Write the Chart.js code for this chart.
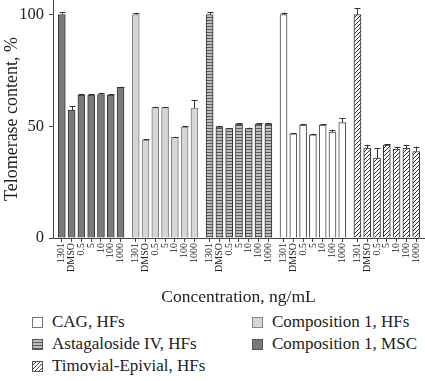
<!DOCTYPE html>
<html>
<head>
<meta charset="utf-8">
<script src="https://cdn.jsdelivr.net/npm/chart.js@4/dist/chart.umd.min.js"></script>
<style>
  body { margin: 0; background: #fff; }
  #wrap { position: relative; width: 425px; height: 381px; font-family: "Liberation Serif", "DejaVu Serif", serif; color: #222; }
  canvas { position: absolute; left: 0; top: 0; }
  .item { position: absolute; font-size: 17px; line-height: 18px; white-space: nowrap; }
  .box { position: absolute; width: 9px; height: 9px; border: 1px solid #666; }
</style>
</head>
<body>
<div id="wrap">
  <canvas id="chart" width="425" height="310"></canvas>
  <div id="legend"></div>
</div>
<script>
// concentration labels, same for every group
const concentrations = ['1301', 'DMSO', '0.5', '5', '10', '100', '1000'];

// groups in the order they appear on the x axis
const groupNames = ['Composition 1, MSC', 'Composition 1, HFs', 'Astagaloside IV, HFs', 'CAG, HFs', 'Timovial-Epivial, HFs'];

const msc       = [100, 57.2, 64.0, 64.0, 64.2, 64.0, 67.4];
const comp1Hfs  = [100, 43.8, 58.4, 58.4, 45.0, 49.6, 58.1];
const astag     = [100, 49.8, 49.0, 51.0, 49.0, 51.0, 51.0];
const cag       = [100, 46.6, 50.5, 46.2, 50.5, 47.4, 51.7];
const timovial  = [100, 40.2, 35.8, 41.6, 39.8, 40.1, 38.7];

const mscErr      = [1.0, 1.8, 0.5, 0.4, 0.8, 0.5, 0.3];
const comp1HfsErr = [0.8, 0.3, 0.3, 0.3, 0.3, 0.6, 3.6];
const astagErr    = [1.2, 0.4, 0.3, 0.4, 0.4, 0.4, 0.3];
const cagErr      = [0.9, 0.4, 0.5, 0.5, 0.4, 1.0, 1.9];
const timovialErr = [2.8, 1.5, 4.5, 0.4, 1.0, 1.3, 2.2];

const yTicks = [0, 50, 100];

// layout: spacing between groups, in bar slots
const GROUP_STEP = concentrations.length + 0.55;

function stripes() {
  const c = document.createElement('canvas');
  c.width = 4; c.height = 3;
  const g = c.getContext('2d');
  g.fillStyle = '#bdbdbd'; g.fillRect(0, 0, 4, 3);
  g.fillStyle = '#5a5a5a'; g.fillRect(0, 2, 4, 1);
  return g.createPattern(c, 'repeat');
}
function hatch() {
  const c = document.createElement('canvas');
  c.width = 4; c.height = 4;
  const g = c.getContext('2d');
  g.fillStyle = '#fff'; g.fillRect(0, 0, 4, 4);
  g.strokeStyle = '#333'; g.lineWidth = 1;
  g.beginPath();
  g.moveTo(-1, 5); g.lineTo(5, -1);
  g.moveTo(-1, 1); g.lineTo(1, -1);
  g.moveTo(3, 5); g.lineTo(5, 3);
  g.stroke();
  return g.createPattern(c, 'repeat');
}

const ctx = document.getElementById('chart').getContext('2d');
const values = [msc, comp1Hfs, astag, cag, timovial];
const errors = [mscErr, comp1HfsErr, astagErr, cagErr, timovialErr];
const fills = ['#7a7a7a', '#d6d6d6', stripes(), '#ffffff', hatch()];
const borders = ['#3a3a3a', '#7a7a7a', '#333333', '#444444', '#333333'];

const positions = [];
const datasets = values.map((vals, g) => {
  const data = vals.map((v, i) => {
    const x = g * GROUP_STEP + i;
    positions.push(x);
    return { x: x, y: v };
  });
  return {
    label: groupNames[g],
    data: data,
    errors: errors[g],
    backgroundColor: fills[g],
    borderColor: borders[g],
    borderWidth: 1,
    borderSkipped: 'bottom',
    barThickness: 7,
    grouped: false
  };
});

const errorBars = {
  id: 'errorBars',
  afterDatasetsDraw(chart) {
    const c = chart.ctx;
    const y = chart.scales.y;
    c.save();
    c.strokeStyle = '#333';
    c.lineWidth = 1;
    chart.data.datasets.forEach((ds, di) => {
      chart.getDatasetMeta(di).data.forEach((bar, i) => {
        const v = ds.data[i].y;
        const top = y.getPixelForValue(v + ds.errors[i]);
        const base = y.getPixelForValue(v);
        const x = Math.round(bar.x) + 0.5;
        c.beginPath();
        c.moveTo(x, base);
        c.lineTo(x, top);
        c.moveTo(x - 3, Math.round(top) + 0.5);
        c.lineTo(x + 3, Math.round(top) + 0.5);
        c.stroke();
      });
    });
    c.restore();
  }
};

const font = 'Liberation Serif';

new Chart(ctx, {
  type: 'bar',
  data: { datasets: datasets },
  options: {
    responsive: false,
    animation: false,
    layout: { padding: { left: 0, right: 1, top: 0, bottom: 0 } },
    plugins: { legend: { display: false }, tooltip: { enabled: false } },
    scales: {
      x: {
        type: 'linear',
        min: -0.9,
        max: 4 * GROUP_STEP + 6.8,
        offset: false,
        grid: { display: true, drawOnChartArea: false, drawTicks: true, tickLength: 4, color: '#444', offset: false },
        border: { display: true, color: '#444', width: 1 },
        afterBuildTicks: (scale) => { scale.ticks = positions.map(v => ({ value: v })); },
        afterFit: (scale) => { scale.height = 72; scale.paddingLeft = 0; scale.paddingRight = 0; },
        ticks: {
          autoSkip: false,
          minRotation: 90,
          maxRotation: 90,
          padding: 1,
          color: '#222',
          font: { family: font, size: 10 },
          callback: (value, index) => concentrations[index % concentrations.length]
        },
        title: {
          display: true,
          text: 'Concentration, ng/mL',
          color: '#222',
          font: { family: font, size: 17.5 },
          padding: { top: 0, bottom: 2.5 }
        }
      },
      y: {
        min: 0,
        max: 106.5,
        grid: { display: true, drawOnChartArea: false, drawTicks: true, tickLength: 4, color: '#444' },
        border: { display: true, color: '#444', width: 1 },
        afterBuildTicks: (scale) => { scale.ticks = yTicks.map(v => ({ value: v })); },
        afterFit: (scale) => { scale.width = 53; scale.paddingTop = 0; scale.paddingBottom = 0; },
        ticks: {
          padding: 5,
          color: '#222',
          font: { family: font, size: 16.5 }
        },
        title: {
          display: true,
          text: 'Telomerase content, %',
          color: '#222',
          font: { family: font, size: 18 },
          padding: { top: 1, bottom: 0 }
        }
      }
    }
  },
  plugins: [errorBars]
});

// legend laid out in two columns like the figure
const legendOrder = [3, 1, 2, 0, 4];
const legendCss = [
  'background:#fff;border-color:#777;',
  'background:#d6d6d6;border-color:#888;',
  'background:repeating-linear-gradient(to bottom,#bdbdbd 0 2px,#5a5a5a 2px 3px);border-color:#555;',
  'background:#7a7a7a;border-color:#555;',
  'background:repeating-linear-gradient(135deg,#fff 0 1.6px,#444 1.6px 2.8px);border-color:#555;'
];
const legendPos = [[32, 317], [252, 317], [32, 339], [252, 339], [32, 361]];
const legend = document.getElementById('legend');
legendOrder.forEach((g, k) => {
  const [bx, by] = legendPos[k];
  const box = document.createElement('div');
  box.className = 'box';
  box.style.cssText = `left:${bx}px;top:${by}px;` + legendCss[k];
  legend.appendChild(box);
  const t = document.createElement('div');
  t.className = 'item';
  t.style.left = (bx + 20) + 'px';
  t.style.top = (by - 4) + 'px';
  t.textContent = groupNames[g];
  legend.appendChild(t);
});
</script>
</body>
</html>
